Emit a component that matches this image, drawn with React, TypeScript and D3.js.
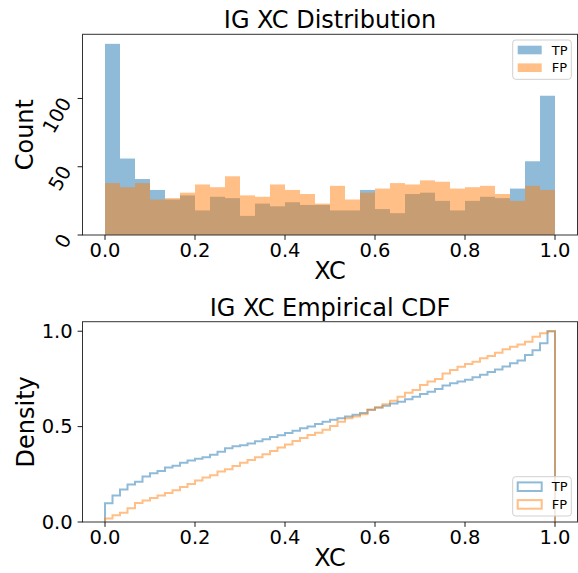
import React from 'react';
import * as d3 from 'd3';

// histogram counts, 30 bins over [0, 1]
const tpCounts = [140, 56, 41, 33, 26, 29, 18, 28, 27, 14, 23, 21, 24, 22, 22, 18, 18, 33, 19, 16, 30, 31, 25, 18, 25, 28, 27, 34, 54, 102];
const fpCounts = [38, 35, 38, 26, 27, 31, 37, 35, 43, 29, 28, 37, 33, 30, 23, 36, 26, 31, 34, 38, 37, 40, 39, 34, 35, 36, 30, 25, 36, 33];

// cumulative density, 60 bins over [0, 1]
const tpCdf = [
  0.098, 0.139, 0.171, 0.197, 0.211, 0.238, 0.255, 0.268, 0.286, 0.295,
  0.311, 0.322, 0.331, 0.340, 0.352, 0.368, 0.386, 0.397, 0.402, 0.411,
  0.423, 0.434, 0.445, 0.455, 0.467, 0.479, 0.491, 0.501, 0.514, 0.525,
  0.536, 0.544, 0.553, 0.562, 0.572, 0.588, 0.600, 0.610, 0.621, 0.631,
  0.643, 0.657, 0.671, 0.683, 0.697, 0.716, 0.727, 0.736, 0.746, 0.759,
  0.772, 0.786, 0.799, 0.815, 0.832, 0.847, 0.876, 0.900, 0.937, 1.0,
];
const fpCdf = [
  0.019, 0.035, 0.049, 0.072, 0.100, 0.113, 0.126, 0.139, 0.152, 0.166,
  0.183, 0.199, 0.217, 0.233, 0.245, 0.265, 0.276, 0.294, 0.310, 0.325,
  0.339, 0.355, 0.372, 0.391, 0.406, 0.424, 0.440, 0.456, 0.468, 0.483,
  0.503, 0.526, 0.544, 0.553, 0.565, 0.588, 0.600, 0.617, 0.636, 0.657,
  0.678, 0.692, 0.718, 0.736, 0.750, 0.779, 0.797, 0.814, 0.828, 0.840,
  0.858, 0.870, 0.887, 0.905, 0.919, 0.931, 0.945, 0.971, 0.989, 1.0,
];

const xTicks = [0, 0.2, 0.4, 0.6, 0.8, 1.0];
const countTicks = [0, 50, 100];
const densityTicks = [0, 0.5, 1.0];
const seriesNames = ['TP', 'FP'];

const FONT = 'DejaVu Sans, sans-serif';
const COLORS = ['#1f77b4', '#ff7f0e'];

const L = 82.5;
const R = 577.5;
const top1 = { top: 34.3, bottom: 235 };
const top2 = { top: 321.7, bottom: 522 };

const x = d3.scaleLinear().domain([-0.05, 1.05]).range([L, R]);
const yCount = d3.scaleLinear().domain([0, 147]).range([top1.bottom, top1.top]);
const yDens = d3.scaleLinear().domain([0, 1.05]).range([top2.bottom, top2.top]);

const fmt = d3.format('.1f');

function XAxis({ bottom }: { bottom: number }) {
  return (
    <g>
      {xTicks.map(t => (
        <g key={t}>
          <line x1={x(t)} x2={x(t)} y1={bottom} y2={bottom + 4.9} stroke="#000" strokeWidth={0.9} />
          <text x={x(t)} y={bottom + 22} textAnchor="middle" fontSize={19.5}>{fmt(t)}</text>
        </g>
      ))}
      <text x={(L + R) / 2} y={bottom + 44} textAnchor="middle" fontSize={24}>XC</text>
    </g>
  );
}

function Frame({ top, bottom }: { top: number; bottom: number }) {
  return <rect x={L} y={top} width={R - L} height={bottom - top} fill="none" stroke="#333" strokeWidth={1} />;
}

function Legend({ top, bottom, filled }: { top?: number; bottom?: number; filled: boolean }) {
  const w = 58.6, h = 39.3;
  const bx = R - 6.2 - w;
  const by = top !== undefined ? top + 5.7 : (bottom as number) - 6 - h;
  return (
    <g>
      <rect x={bx} y={by} width={w} height={h} rx={3} fill="#fff" fillOpacity={0.8} stroke="#d0d0d0" strokeWidth={1} />
      {seriesNames.map((name, i) => {
        const cy = by + 10 + i * 17.7;
        return (
          <g key={name}>
            {filled ? (
              <rect x={bx + 5} y={cy - 4.3} width={24} height={8.6} fill={COLORS[i]} fillOpacity={0.5} />
            ) : (
              <rect x={bx + 5} y={cy - 4.3} width={24} height={8.6} fill="none" stroke={COLORS[i]} strokeOpacity={0.5} strokeWidth={2} />
            )}
            <text x={bx + 39} y={cy} dy="0.35em" fontSize={13}>{name}</text>
          </g>
        );
      })}
    </g>
  );
}

function stepPath(values: number[]) {
  const n = values.length;
  const pts: [number, number][] = [[0, 0]];
  values.forEach((v, i) => pts.push([i / n, v]));
  pts.push([1, values[n - 1]]);
  pts.push([1, 0]);
  return d3.line<[number, number]>()
    .x(d => x(d[0]))
    .y(d => yDens(d[1]))
    .curve(d3.curveStepAfter)(pts) as string;
}

export default function App() {
  const nb = tpCounts.length;
  const edges = d3.range(nb + 1).map(i => i / nb);
  const bars = (counts: number[], color: string) =>
    counts.map((c, i) => (
      <rect key={i} x={x(edges[i])} width={x(edges[i + 1]) - x(edges[i])}
        y={yCount(c)} height={yCount(0) - yCount(c)} fill={color} fillOpacity={0.5} />
    ));

  return (
    <svg width={578} height={573} style={{ position: 'absolute', left: 0, top: 0 }} fontFamily={FONT}>
      <rect width={578} height={573} fill="#fff" />

      {/* top: histogram */}
      <text x={(L + R) / 2} y={top1.top - 6} textAnchor="middle" fontSize={24}>IG XC Distribution</text>
      <g>{bars(tpCounts, COLORS[0])}</g>
      <g>{bars(fpCounts, COLORS[1])}</g>
      <Frame {...top1} />
      {countTicks.map(t => (
        <g key={t}>
          <line x1={L - 4.9} x2={L} y1={yCount(t)} y2={yCount(t)} stroke="#000" strokeWidth={0.9} />
          <text transform={`translate(72,${yCount(t) + 4}) rotate(-60)`} textAnchor="end" fontSize={19.5}>{t}</text>
        </g>
      ))}
      <text transform={`translate(33,${(top1.top + top1.bottom) / 2}) rotate(-90)`} textAnchor="middle" fontSize={24}>Count</text>
      <XAxis bottom={top1.bottom} />
      <Legend top={top1.top} filled />

      {/* bottom: empirical CDF */}
      <text x={(L + R) / 2} y={top2.top - 6} textAnchor="middle" fontSize={24}>IG XC Empirical CDF</text>
      <path d={stepPath(tpCdf)} fill="none" stroke={COLORS[0]} strokeOpacity={0.5} strokeWidth={2} />
      <path d={stepPath(fpCdf)} fill="none" stroke={COLORS[1]} strokeOpacity={0.5} strokeWidth={2} />
      <Frame {...top2} />
      {densityTicks.map(t => (
        <g key={t}>
          <line x1={L - 4.9} x2={L} y1={yDens(t)} y2={yDens(t)} stroke="#000" strokeWidth={0.9} />
          <text x={72.7} y={yDens(t)} dy="0.35em" textAnchor="end" fontSize={19.5}>{fmt(t)}</text>
        </g>
      ))}
      <text transform={`translate(34,${(top2.top + top2.bottom) / 2}) rotate(-90)`} textAnchor="middle" fontSize={24}>Density</text>
      <XAxis bottom={top2.bottom} />
      <Legend bottom={top2.bottom} filled={false} />
    </svg>
  );
}
